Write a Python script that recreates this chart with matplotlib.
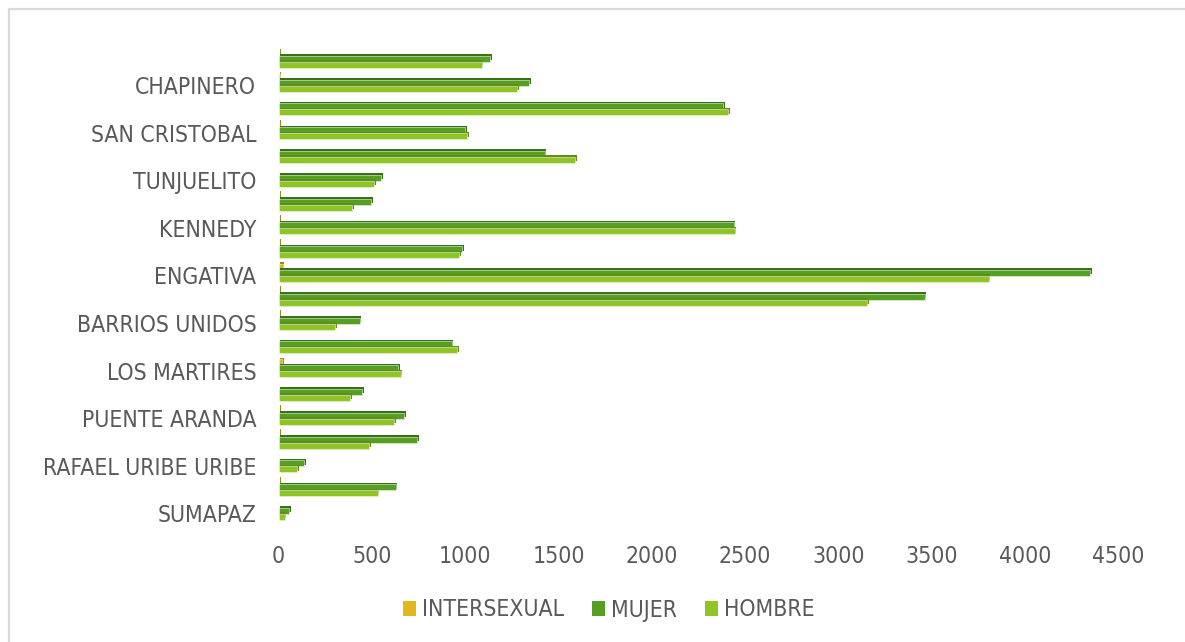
import matplotlib
matplotlib.use("Agg")
import matplotlib.pyplot as plt
import matplotlib.patheffects as pe
from matplotlib.patches import Rectangle, Patch
import numpy as np

# Localidades de Bogotá, de arriba hacia abajo
localidades = [
    "USAQUEN", "CHAPINERO", "SANTA FE", "SAN CRISTOBAL", "USME",
    "TUNJUELITO", "BOSA", "KENNEDY", "FONTIBON", "ENGATIVA",
    "SUBA", "BARRIOS UNIDOS", "TEUSAQUILLO", "LOS MARTIRES", "ANTONIO NARIÑO",
    "PUENTE ARANDA", "LA CANDELARIA", "RAFAEL URIBE URIBE", "CIUDAD BOLIVAR", "SUMAPAZ",
]

intersexual = [5, 6, 0, 4, 0, 0, 4, 5, 4, 22, 5, 4, 0, 20, 0, 4, 3, 0, 4, 0]
mujer = [1134, 1344, 2381, 1000, 1425, 549, 496, 2438, 985, 4348,
         3462, 434, 928, 642, 448, 673, 744, 138, 628, 58]
hombre = [1089, 1277, 2409, 1009, 1591, 514, 394, 2443, 969, 3805,
          3154, 303, 958, 655, 383, 619, 487, 99, 531, 33]

series_names = ["INTERSEXUAL", "MUJER", "HOMBRE"]
x_ticks = [0, 500, 1000, 1500, 2000, 2500, 3000, 3500, 4000, 4500]

colors = ["#E4B61E", "#559F22", "#8EC425"]
shadows = ["#A8841A", "#3A7117", "#5F8F1A"]

text_color = "#595959"
plt.rcParams["font.family"] = ["DejaVu Sans"]
plt.rcParams["font.stretch"] = "condensed"

W, H = 1185, 642
fig = plt.figure(figsize=(W / 100, H / 100), dpi=100)
fig.patch.set_facecolor("white")

# marco del gráfico
fig.patches.append(Rectangle((8.5 / W, -0.05), 1.2, 1 - 8.5 / H + 0.05,
                             transform=fig.transFigure, fill=False,
                             edgecolor="#D9D9D9", linewidth=1.6))

ax = fig.add_axes([278.5 / W, 1 - 525.3 / H, (1118.5 - 278.5) / W, (525.3 - 49.3) / H])

pos = np.arange(len(localidades))
h = 0.25
shift = -0.1
for k, vals in enumerate([intersexual, mujer, hombre]):
    bars = ax.barh(pos + shift + (k - 1) * h, vals, height=h, color=colors[k],
                   edgecolor="#EEF4E6", linewidth=0.4)
    for b in bars:
        b.set_path_effects([pe.SimplePatchShadow(offset=(1.2, 1.2),
                                                 shadow_rgbFace=shadows[k], alpha=1.0),
                            pe.Normal()])

ax.set_xlim(0, 4500)
ax.set_ylim(len(localidades) - 0.5, -0.5)

ax.set_xticks(x_ticks)
ax.set_xticklabels([str(t) for t in x_ticks])
ax.set_yticks(pos[1::2])
ax.set_yticklabels(localidades[1::2])

for s in ax.spines.values():
    s.set_visible(False)
ax.tick_params(axis="both", length=0, labelcolor=text_color, labelsize=16.5)
ax.tick_params(axis="x", pad=14)
ax.tick_params(axis="y", pad=16)

handles = [Patch(facecolor=c, edgecolor="none") for c in colors]
fig.legend(handles, series_names, loc="center", bbox_to_anchor=(609 / W, 1 - 610 / H),
           ncol=3, frameon=False, fontsize=16.5, labelcolor=text_color,
           handlelength=0.55, handleheight=0.6, handletextpad=0.3,
           columnspacing=1.2)

fig.savefig("out.png", dpi=100, facecolor="white")
